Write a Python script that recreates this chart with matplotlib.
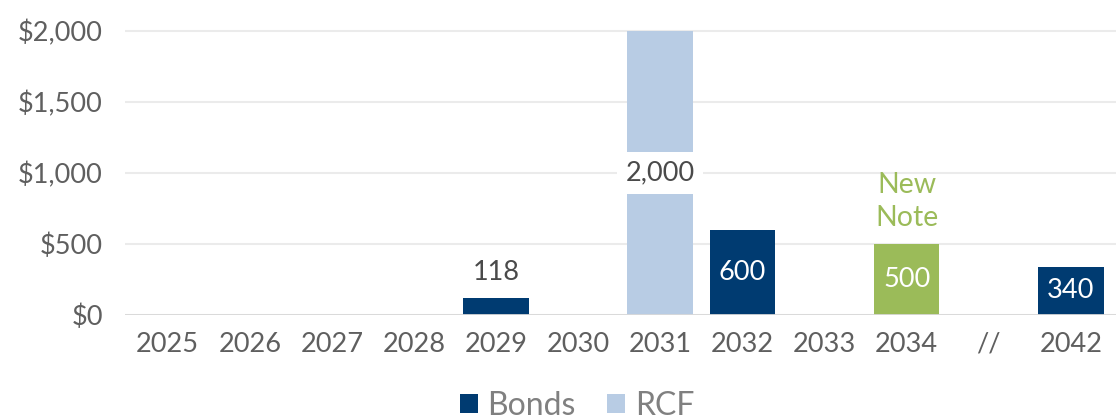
import matplotlib
matplotlib.use('Agg')
import matplotlib.pyplot as plt
import numpy as np

plt.rcParams['font.family'] = ['Lato', 'DejaVu Sans']

# data
years = ['2025', '2026', '2027', '2028', '2029', '2030', '2031', '2032', '2033', '2034', '//', '2042']
bonds = [0, 0, 0, 0, 118, 0, 0, 600, 0, 0, 0, 340]
rcf = [0, 0, 0, 0, 0, 0, 2000, 0, 0, 0, 0, 0]
new_note = [0, 0, 0, 0, 0, 0, 0, 0, 0, 500, 0, 0]

navy = '#003b71'
light = '#b8cce4'
green = '#9bbb59'
grey_txt = '#5f5f5f'

fig = plt.figure(figsize=(11.16, 4.19), dpi=100)
ax = fig.add_axes([125 / 1116, 104 / 419, 991 / 1116, 312.4 / 419])

x = np.arange(len(years))
w = 0.8
ax.bar(x, bonds, w, color=navy, label='Bonds', zorder=3)
ax.bar(x, rcf, w, color=light, label='RCF', zorder=3)
ax.bar(x, new_note, w, color=green, zorder=3)

ax.set_xlim(-0.52, 11.55)
ax.set_ylim(0, 2200)
ax.set_yticks([0, 500, 1000, 1500, 2000])
ax.set_yticklabels(['$0', '$500', '$1,000', '$1,500', '$2,000'])
ax.set_xticks(x)
ax.set_xticklabels(years)
ax.tick_params(axis='both', length=0, labelsize=19.5, labelcolor=grey_txt)
ax.tick_params(axis='y', pad=16)
ax.tick_params(axis='x', pad=12)

for s in ax.spines.values():
    s.set_visible(False)
ax.yaxis.grid(True, color='#ebebeb', lw=1.5, zorder=0)
ax.axhline(0, color='#d9d9d9', lw=2, zorder=4)

# value labels
for i, v in enumerate(bonds):
    if v == 0:
        continue
    if v < 200:
        ax.text(i, v + 180, str(v), ha='center', va='center', fontsize=19.5, color='#4a4a4a', zorder=5)
    else:
        ax.text(i, v / 2, str(v), ha='center', va='center', fontsize=19.5, color='white', zorder=5)
for i, v in enumerate(rcf):
    if v:
        ax.text(i, v / 2, '{:,}'.format(v), ha='center', va='center', fontsize=19.5, color='#4a4a4a', zorder=5,
                bbox=dict(facecolor='white', edgecolor='none', pad=6))
for i, v in enumerate(new_note):
    if v:
        ax.text(i, v / 2, str(v), ha='center', va='center', fontsize=19.5, color='white', zorder=5)
        ax.text(i, v + 300, 'New\nNote', ha='center', va='center', fontsize=20.5, color=green,
                linespacing=1.3, zorder=5)

fig.legend(loc='center', bbox_to_anchor=(577 / 1116, 1 - 406 / 419), ncol=2, frameon=False,
           fontsize=23, labelcolor='#808080', handlelength=0.55, handleheight=0.55,
           handletextpad=0.3, columnspacing=1.0)

fig.savefig('out.png', dpi=100)
